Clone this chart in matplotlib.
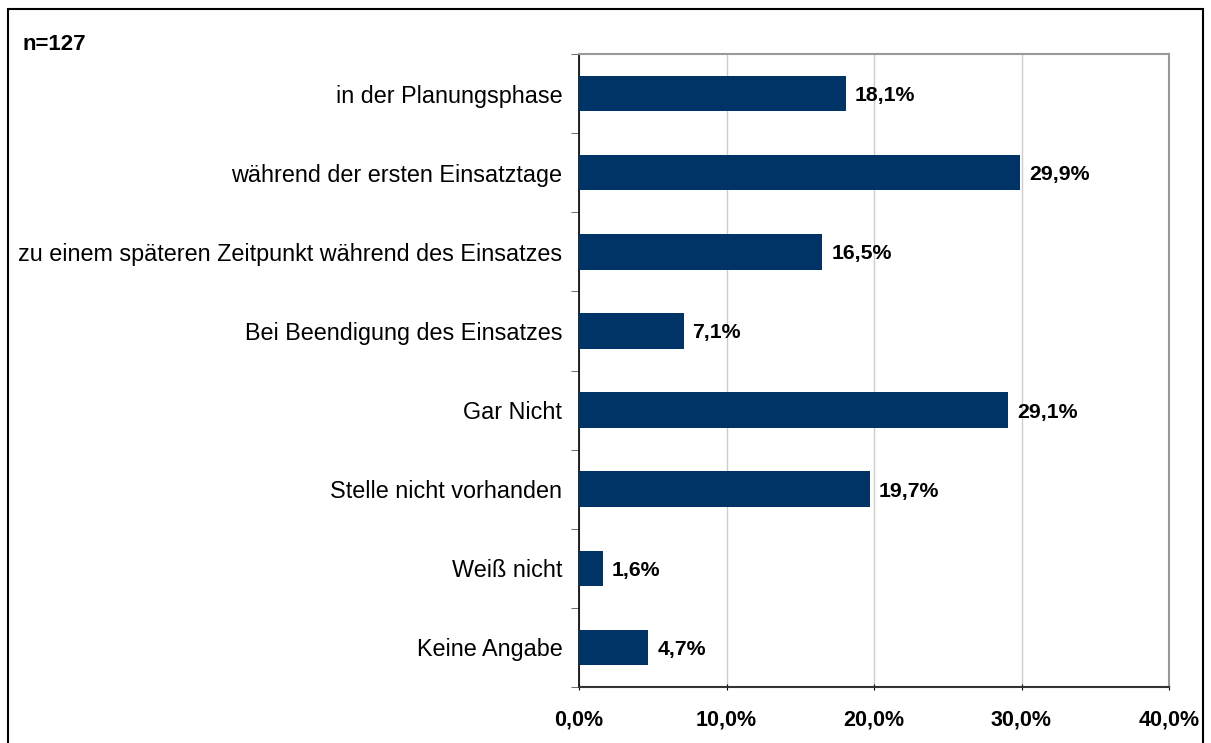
import matplotlib
matplotlib.use("Agg")
import matplotlib.pyplot as plt
from matplotlib.patches import Rectangle

categories = [
    "in der Planungsphase",
    "während der ersten Einsatztage",
    "zu einem späteren Zeitpunkt während des Einsatzes",
    "Bei Beendigung des Einsatzes",
    "Gar Nicht",
    "Stelle nicht vorhanden",
    "Weiß nicht",
    "Keine Angabe",
]
values = [18.1, 29.9, 16.5, 7.1, 29.1, 19.7, 1.6, 4.7]
xticks = [0, 10, 20, 30, 40]
xtick_labels = ["0,0%", "10,0%", "20,0%", "30,0%", "40,0%"]
note = "n=127"

plt.rcParams['font.family'] = ['Liberation Sans', 'DejaVu Sans']

W, H = 1211, 743
fig = plt.figure(figsize=(W / 100, H / 100), dpi=100)

# outer frame
fig.patches.append(Rectangle((8 / W, -0.01), (1203 - 8) / W, (H - 9) / H + 0.01,
                             transform=fig.transFigure, fill=False,
                             edgecolor='black', linewidth=1.5))

ax = fig.add_axes([579 / W, 1 - 687 / H, (1169 - 579) / W, (687 - 54) / H])
n = len(categories)
ypos = list(range(n))
ax.barh(ypos, values, height=0.45, color='#003366', zorder=3)
ax.set_ylim(n - 0.5, -0.5)
ax.set_xlim(0, 40)

for y, v in zip(ypos, values):
    ax.text(v + 0.6, y, f"{v:.1f}".replace('.', ',') + "%", va='center_baseline', ha='left',
            fontsize=15.3, fontweight='bold', color='black')

ax.set_yticks(ypos)
ax.set_yticklabels(categories, fontsize=16.8)
ax.tick_params(axis='y', which='major', length=0, pad=12)
ax.set_yticks([i + 0.5 for i in range(-1, n)], minor=True)
ax.tick_params(axis='y', which='minor', length=6, direction='out', color='#555555')

ax.set_xticks(xticks)
ax.set_xticklabels(xtick_labels, fontsize=15.5, fontweight='bold')
ax.tick_params(axis='x', length=5, direction='inout', pad=14, color='black')

ax.grid(axis='x', color='#cccccc', linewidth=1, zorder=0)
for s in ['top', 'right']:
    ax.spines[s].set_color('#999999')
    ax.spines[s].set_linewidth(1.5)
ax.spines['left'].set_color('black')
ax.spines['bottom'].set_color('#333333')
ax.spines['left'].set_linewidth(1.2)
ax.spines['bottom'].set_linewidth(1.5)

fig.text(22 / W, 1 - 45 / H, note, fontsize=16, fontweight='bold', va='center', ha='left')

fig.savefig("out.png", dpi=100)
